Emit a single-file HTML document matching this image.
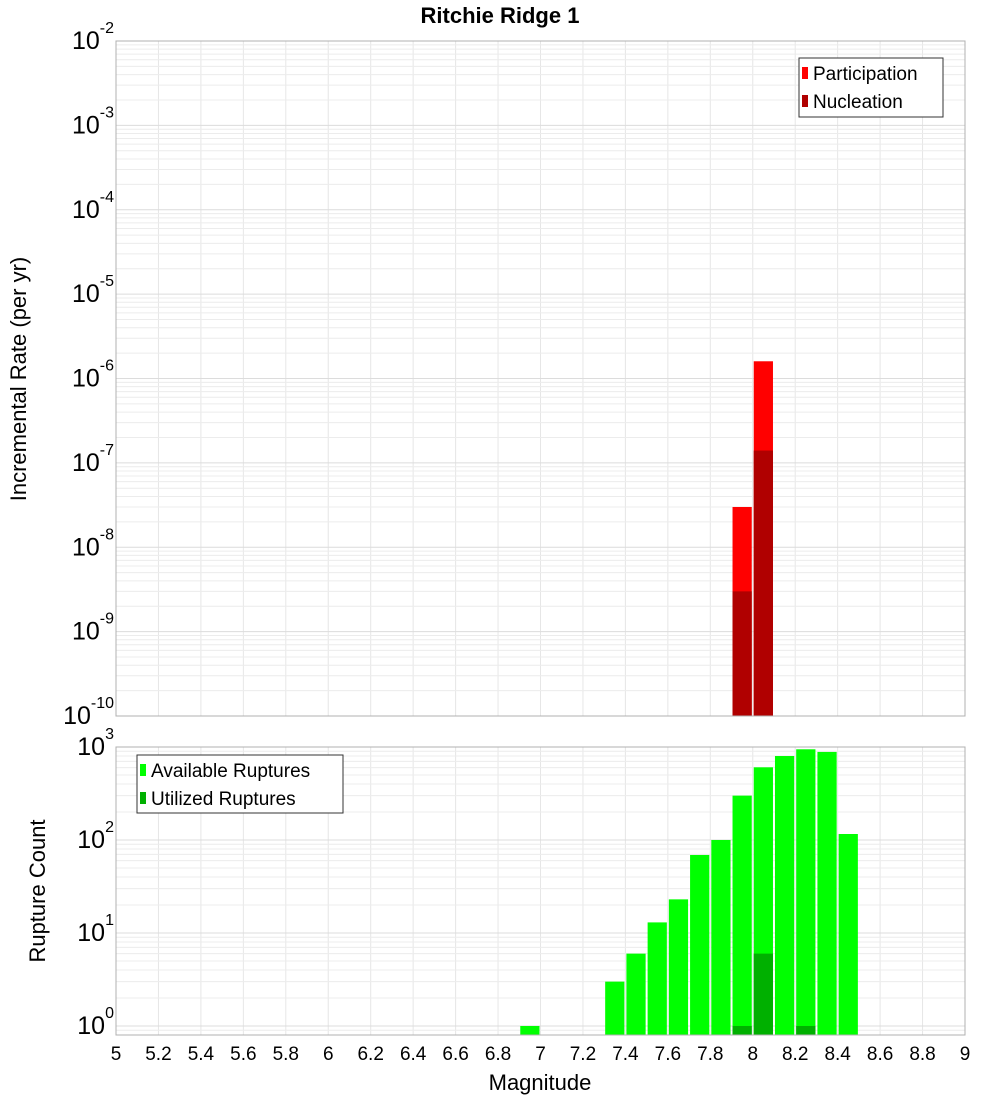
<!DOCTYPE html>
<html><head><meta charset="utf-8"><style>
body{margin:0;background:#fff;}
svg{display:block;font-family:"Liberation Sans","DejaVu Sans",sans-serif;}
</style></head><body>
<svg id="c" width="1000" height="1100"></svg>
<script>
const magCenters=[7.95,8.05];
const partVals=[3.0e-8,1.6e-6];
const nuclVals=[3.0e-9,1.4e-7];
const cntMags=[6.95,7.35,7.45,7.55,7.65,7.75,7.85,7.95,8.05,8.15,8.25,8.35,8.45];
const availVals=[1,3,6,13,23,69,100,300,605,800,945,885,116];
const utilMags=[7.95,8.05,8.25];
const utilVals=[1,6,1];
const xTicks=[5,5.2,5.4,5.6,5.8,6,6.2,6.4,6.6,6.8,7,7.2,7.4,7.6,7.8,8,8.2,8.4,8.6,8.8,9];
const topExps=[-10,-9,-8,-7,-6,-5,-4,-3,-2];
const botExps=[0,1,2,3];

const NS="http://www.w3.org/2000/svg";
const svg=document.getElementById('c');
function el(t,a,p){const e=document.createElementNS(NS,t);for(const k in a)e.setAttribute(k,a[k]);(p||svg).appendChild(e);return e;}
const L=116,R=965;
const x=v=>L+(v-5)/4*(R-L);
const T1=41,B1=716;
const yTop=v=>B1-(Math.log10(v)+10)/8*(B1-T1);
const T2=747,B2=1035,bmin=0.8,bmax=1000;
const yBot=v=>B2-(Math.log10(v)-Math.log10(bmin))/(Math.log10(bmax)-Math.log10(bmin))*(B2-T2);

// grids
function grid(T,B,yf,exps,lo,hi){
  for(const t of xTicks){const g=el('line',{x1:x(t),x2:x(t),y1:T,y2:B,stroke:'#e6e6e6'});
  }
  for(const e of exps){for(let m=1;m<10;m++){const v=m*Math.pow(10,e);if(v<lo||v>hi)continue;
    const g=el('line',{x1:L,x2:R,y1:yf(v),y2:yf(v),stroke:m==1?'#dcdcdc':'#ececec'});
    }}
}
grid(T1,B1,yTop,topExps,1e-10,1e-2);
grid(T2,B2,yBot,[-1,0,1,2],bmin,bmax);

// title
let t=el('text',{x:500,y:23,'text-anchor':'middle','font-size':22,'font-weight':'bold'});t.textContent='Ritchie Ridge 1';


function bar(c,v,yf,base,fill,name){
  const y=yf(v);const r=el('rect',{x:x(c-0.05)+1,y:y,width:x(c+0.05)-x(c-0.05)-2,height:base-y,fill:fill});
  
}
partVals.forEach((v,i)=>bar(magCenters[i],v,yTop,B1,'#ff0000','participation-bar'));
nuclVals.forEach((v,i)=>bar(magCenters[i],v,yTop,B1,'#b00000','nucleation-bar'));
availVals.forEach((v,i)=>bar(cntMags[i],v,yBot,B2,'#00ff00','available-bar'));
utilVals.forEach((v,i)=>bar(utilMags[i],v,yBot,B2,'#00b000','utilized-bar'));

// frames
let f=el('rect',{x:L,y:T1,width:R-L,height:B1-T1,fill:'none',stroke:'#b0b0b0'});

f=el('rect',{x:L,y:T2,width:R-L,height:B2-T2,fill:'none',stroke:'#b0b0b0'});


// y tick labels
function ylab(yy,e,name){
  const g=el('text',{x:114,y:yy+8,'text-anchor':'end','font-size':25});
  
  const b=el('tspan',{},g);b.textContent='10';
  const s=el('tspan',{dy:-16,'font-size':16},g);s.textContent=String(e);
}
topExps.forEach(e=>ylab(yTop(Math.pow(10,e)),e,'top-y-tick-label'));
botExps.forEach(e=>ylab(yBot(Math.pow(10,e)),e,'bottom-y-tick-label'));

// x tick labels
xTicks.forEach(v=>{const g=el('text',{x:x(v),y:1060,'text-anchor':'middle','font-size':19});
g.textContent=String(v);});

t=el('text',{x:540,y:1090,'text-anchor':'middle','font-size':22});t.textContent='Magnitude';

t=el('text',{x:0,y:0,'text-anchor':'middle','font-size':22,transform:'translate(26,379) rotate(-90)'});t.textContent='Incremental Rate (per yr)';

t=el('text',{x:0,y:0,'text-anchor':'middle','font-size':22,transform:'translate(45,891) rotate(-90)'});t.textContent='Rupture Count';


// legends
function legend(bx,by,w,h,items,name){
  const g=el('g',{});
  el('rect',{x:bx,y:by,width:w,height:h,fill:'#fff',stroke:'#333'},g);
  items.forEach((it,i)=>{const yy=by+15+i*28;
    const s=el('rect',{x:bx+3,y:yy-6,width:6,height:12,fill:it[1]},g);
    
    const tx=el('text',{x:bx+14,y:yy+7,'font-size':19},g);tx.textContent=it[0];
    });
}
legend(799,58,144,59,[['Participation','#ff0000'],['Nucleation','#b00000']],'top-legend');
legend(137,755,206,58,[['Available Ruptures','#00ff00'],['Utilized Ruptures','#00b000']],'bottom-legend');
</script>
</body></html>
